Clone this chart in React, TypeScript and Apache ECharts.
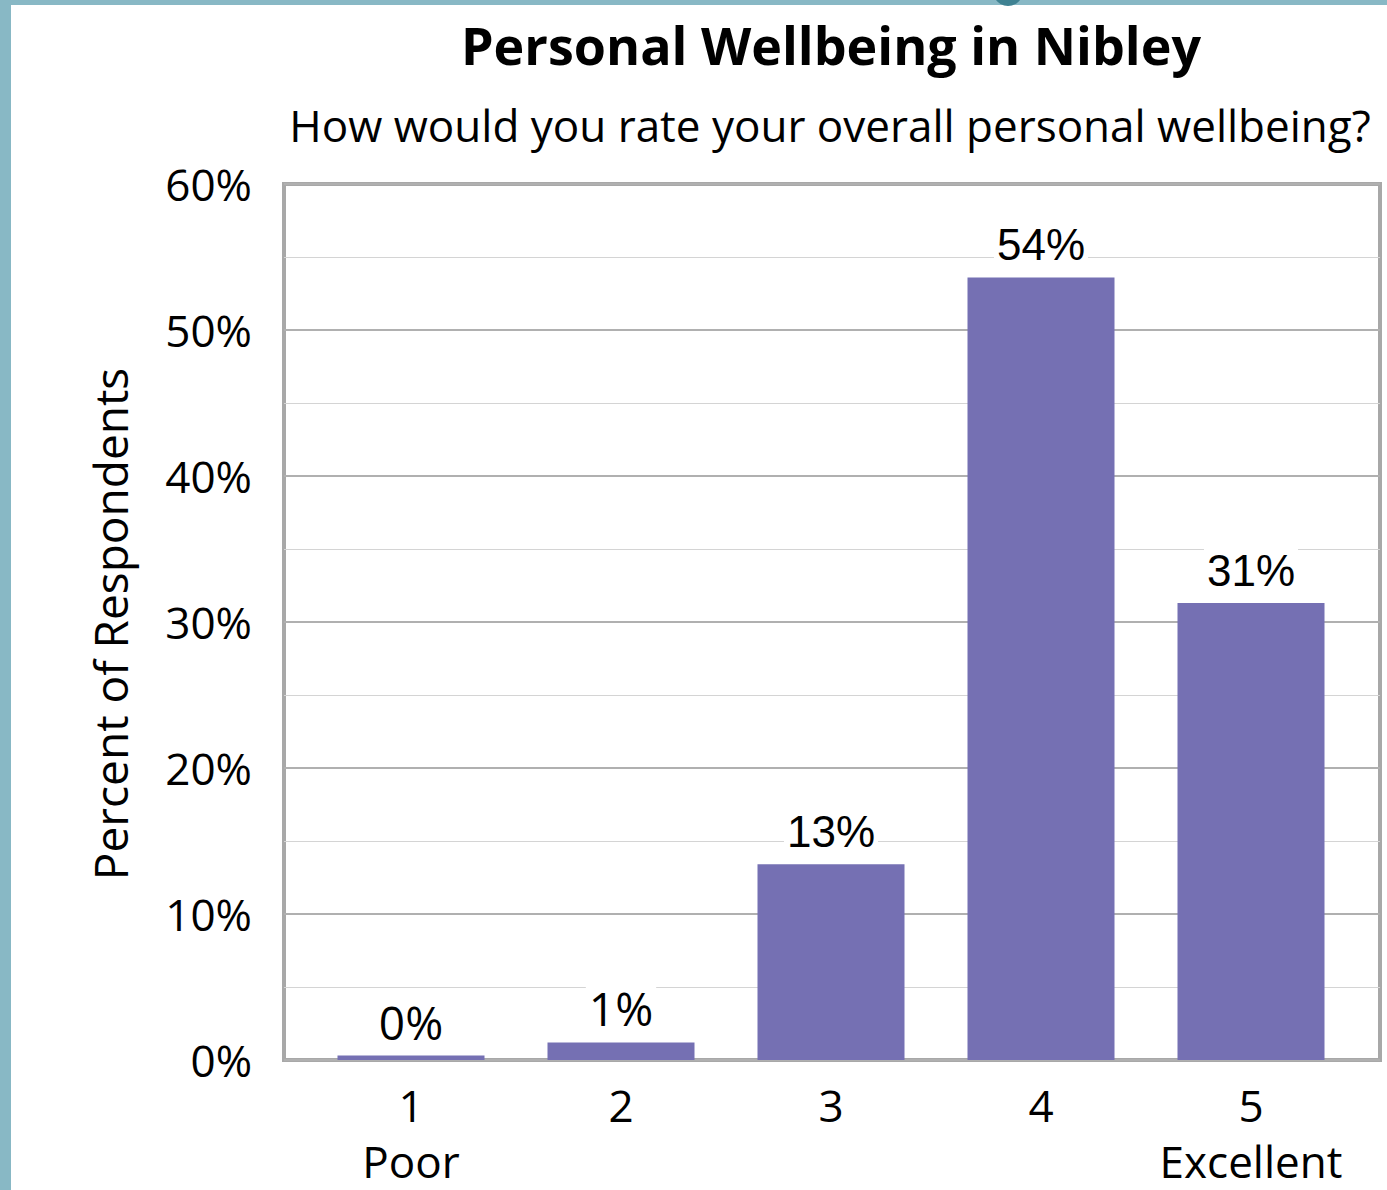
import React, { useEffect, useRef } from "react";
import * as echarts from "echarts";

const categories = ["1", "2", "3", "4", "5"];
const categoryNotes = ["Poor", "", "", "", "Excellent"];
const values = [0.3, 1.2, 13.4, 53.6, 31.3];
const yTicks = [0, 10, 20, 30, 40, 50, 60];

const TITLE = "Personal Wellbeing in Nibley";
const SUBTITLE = "How would you rate your overall personal wellbeing?";
const Y_NAME = "Percent of Respondents";

const CAL = "'Open Sans', 'Noto Sans', sans-serif";
const ARI = "'Liberation Sans', Arial, sans-serif";

export default function App() {
  const ref = useRef<HTMLDivElement>(null);
  useEffect(() => {
    if (!ref.current) return;
    const chart = echarts.init(ref.current, null, { renderer: "svg" });
    const barColor = "#7570b3";
    chart.setOption({
      animation: false,
      backgroundColor: "#88b8c5",
      graphic: [
        { type: "rect", z: -10, shape: { x: 11, y: 5, width: 1400, height: 1200 }, style: { fill: "#ffffff" } },
        { type: "circle", z: -9, shape: { cx: 1008, cy: -9, r: 15 }, style: { fill: "#3f8292" } },
        {
          type: "text", x: 831, y: 44,
          style: { text: TITLE, font: `bold 52px ${CAL}`, fill: "#000", align: "center", verticalAlign: "middle" },
        },
        {
          type: "text", x: 830, y: 125,
          style: { text: SUBTITLE, font: `44px ${CAL}`, fill: "#000", align: "center", verticalAlign: "middle" },
        },
        {
          type: "text", x: 110, y: 624, rotation: Math.PI / 2,
          style: { text: Y_NAME, font: `46px ${CAL}`, fill: "#000", align: "center", verticalAlign: "middle" },
        },
      ],
      grid: [
        { left: 284, right: 7, top: 184, bottom: 130, show: true, borderColor: "#a8a8a8", borderWidth: 4, backgroundColor: "transparent" },
        { left: 306, width: 1050, top: 184, bottom: 130 },
      ],
      xAxis: [
        { type: "value", gridIndex: 0, min: 0, max: 1, show: false },
        {
          type: "category", gridIndex: 1, data: categories,
          axisLine: { show: false }, axisTick: { show: false },
          axisLabel: {
            interval: 0,
            margin: 17,
            formatter: (v: string, i: number) => (categoryNotes[i] ? `${v}\n${categoryNotes[i]}` : v),
            fontFamily: CAL, fontSize: 44, color: "#000", lineHeight: 56,
          },
        },
      ],
      yAxis: [
        {
          type: "value", gridIndex: 0, min: 0, max: 60, interval: 10,
          axisLine: { show: false }, axisTick: { show: false },
          minorTick: { show: true, splitNumber: 2, length: 0, lineStyle: { color: "transparent" } },
          minorSplitLine: { show: true, lineStyle: { color: "#d4d4d4", width: 1 } },
          splitLine: { show: true, lineStyle: { color: "#b0b0b0", width: 2 } },
          axisLabel: {
            margin: 32, fontFamily: CAL, fontSize: 44, color: "#000",
            formatter: (v: number) => (yTicks.includes(v) ? `${v}%` : ""),
          },
        },
        { type: "value", gridIndex: 1, min: 0, max: 60, show: false },
      ],
      series: [
        {
          type: "bar", xAxisIndex: 1, yAxisIndex: 1, barWidth: 147,
          itemStyle: { color: barColor },
          data: values.map((v) => ({
            value: v,
            label: v >= 10 ? { fontFamily: ARI, fontSize: 44 } : { fontFamily: CAL, fontSize: 46 },
          })),
          label: {
            show: true, position: "top", distance: 11,
            color: "#000", backgroundColor: "#fff", padding: [0, 3],
            formatter: (p: any) => `${Math.round(p.value)}%`,
          },
        },
      ],
    });
    return () => chart.dispose();
  }, []);
  return <div ref={ref} style={{ position: "fixed", left: 0, top: 0, width: 1387, height: 1190 }} />;
}
